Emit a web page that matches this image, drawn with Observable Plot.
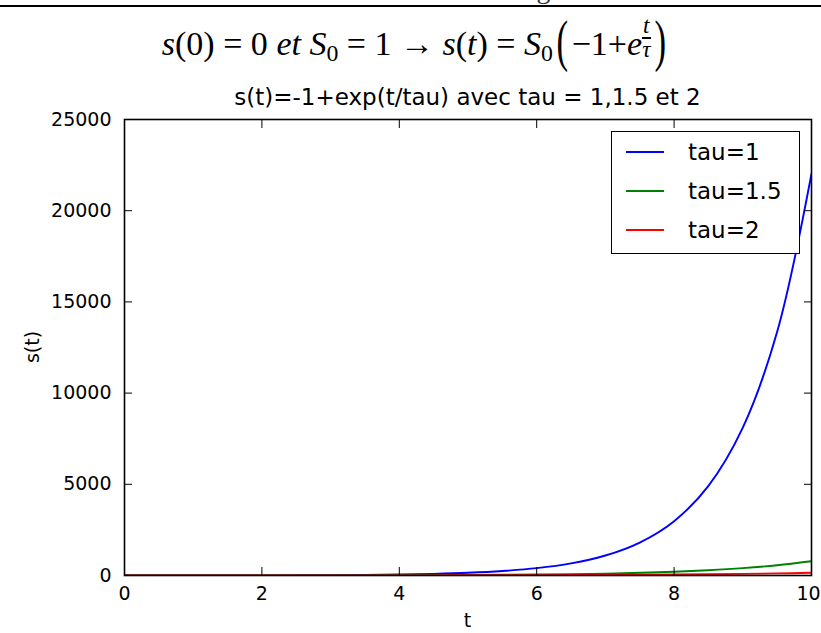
<!DOCTYPE html>
<html>
<head>
<meta charset="utf-8">
<script src="https://cdn.jsdelivr.net/npm/d3@7"></script>
<script src="https://cdn.jsdelivr.net/npm/@observablehq/plot@0.6"></script>
<style>
  html, body { margin: 0; padding: 0; background: #fff; }
  #page { position: relative; width: 821px; height: 633px; overflow: hidden; background: #fff; }
  .abs { position: absolute; white-space: nowrap; }
  #cut { left: 0; top: 0; width: 821px; height: 5px; overflow: hidden; }
  #cut span { position: absolute; left: 266px; top: -27px; font: 28px "Liberation Serif", serif; line-height: 32px; color: #333; }
  #rule { left: 0; top: 5px; width: 821px; height: 2px; background: #000; }
  #formula { left: 5px; width: 821px; top: 15px; text-align: center; font: 34px "Liberation Serif", "DejaVu Serif", serif; color: #000; line-height: 1.2; }
  #formula i { font-style: italic; }
  #formula sub { font-size: 0.7em; vertical-align: -0.25em; }
  .paren { display: inline-block; font-size: 1.65em; transform: scaleX(0.62); vertical-align: -0.1em; line-height: 0.8; }
  .frac { display: inline-block; vertical-align: -0.1em; font-size: 0.68em; text-align: center; line-height: 0.95; font-style: italic; }
  .frac .num { display: block; border-bottom: 2px solid #000; padding: 0 1px; }
  .frac .den { display: block; }
  #title { left: 124px; width: 687px; top: 84px; text-align: center; font: 23px "DejaVu Sans", sans-serif; color: #000; }
  #xlabel { left: 124px; width: 687px; top: 609px; text-align: center; font: 19px "DejaVu Sans", sans-serif; }
  #ylabel { left: 32px; top: 347px; font: 19px "DejaVu Sans", sans-serif; transform: translate(-50%, -50%) rotate(-90deg); }
  #legend { left: 611px; top: 131px; width: 187px; height: 121px; border: 1.5px solid #000; background: #fff; }
  .lrow { position: absolute; left: 0; height: 30px; }
  .lrow .sw { position: absolute; left: 14px; width: 38px; height: 2px; top: 14px; }
  .lrow .lt { position: absolute; left: 76px; top: 0px; font: 23px "DejaVu Sans", sans-serif; line-height: 30px; }
  #chart { position: absolute; left: 0; top: 80px; }
</style>
</head>
<body>
<div id="page">
  <div id="cut" class="abs"><span>Tracé de la courbe divergente</span></div>
  <div id="rule" class="abs"></div>
  <div id="formula" class="abs"><i>s</i>(0) = 0 <i>et</i> <i>S</i><sub>0</sub> = 1 → <i>s</i>(<i>t</i>) = <i>S</i><sub>0</sub><span class="paren">(</span>−1+<i>e</i><span class="frac"><span class="num">t</span><span class="den">τ</span></span><span class="paren">)</span></div>
  <div id="title" class="abs">s(t)=-1+exp(t/tau) avec tau = 1,1.5 et 2</div>
  <div id="chart"></div>
  <div id="xlabel" class="abs">t</div>
  <div id="ylabel" class="abs">s(t)</div>
  <div id="legend" class="abs"></div>
</div>
<script>
// ---- data ----
const tValues = [0, 0.5, 1, 1.5, 2, 2.5, 3, 3.5, 4, 4.5, 5, 5.5, 6, 6.5, 7, 7.5, 8, 8.5, 9, 9.5, 10];
const sTau1   = [0, 0.65, 1.7, 3.5, 6.4, 11, 19, 32, 54, 89, 147, 244, 402, 664, 1096, 1807, 2980, 4914, 8102, 13359, 22025];
const sTau15  = [0, 0.4, 0.95, 1.7, 2.8, 4.3, 6.4, 9.3, 13.4, 19.1, 27, 38, 54, 75, 105, 147, 206, 288, 402, 562, 785];
const sTau2   = [0, 0.28, 0.65, 1.1, 1.7, 2.5, 3.5, 4.8, 6.4, 8.5, 11.2, 14.6, 19.1, 24.8, 32.1, 41.5, 53.6, 69.1, 89, 114.6, 147.4];
const seriesNames  = ["tau=1", "tau=1.5", "tau=2"];
const seriesColors = ["#0000ff", "#008000", "#ff0000"];
const xTicks = [0, 2, 4, 6, 8, 10];
const yTicks = [0, 5000, 10000, 15000, 20000, 25000];

const seriesValues = [sTau1, sTau15, sTau2];
const rows = [];
seriesNames.forEach((name, i) => {
  tValues.forEach((t, j) => rows.push({t, s: seriesValues[i][j], series: name}));
});

const font = "DejaVu Sans, sans-serif";
const chart = Plot.plot({
  width: 821,
  height: 553,
  marginTop: 39,
  marginBottom: 58,
  marginLeft: 124,
  marginRight: 10,
  style: {fontFamily: font, fontSize: "19px", color: "#000", background: "transparent", overflow: "visible"},
  x: {domain: [0, 10]},
  y: {domain: [0, 25000]},
  color: {domain: seriesNames, range: seriesColors},
  marks: [
    Plot.line(rows, {x: "t", y: "s", z: "series", stroke: "series", strokeWidth: 1.9, curve: "catmull-rom", clip: true}),
    Plot.axisX({ticks: xTicks.slice(0, -1), tickSize: -8, tickPadding: 19, label: null, strokeWidth: 1, fontSize: 19}),
    Plot.axisX({ticks: xTicks.slice(-1), tickSize: 0, tickPadding: 11, dx: -3, label: null, fontSize: 19}),
    Plot.axisX({ticks: xTicks.slice(-1), tickSize: -8, tickFormat: () => "", label: null, strokeWidth: 1}),
    Plot.axisX({ticks: xTicks, anchor: "top", tickSize: -8, tickFormat: () => "", label: null, strokeWidth: 1}),
    Plot.axisY({ticks: yTicks, tickSize: -8, tickPadding: 21, label: null, tickFormat: d => String(d), strokeWidth: 1, fontSize: 19}),
    Plot.axisY({ticks: yTicks, anchor: "right", tickSize: -8, tickFormat: () => "", label: null, strokeWidth: 1}),
    Plot.frame({stroke: "#000", strokeWidth: 1.6})
  ]
});
document.getElementById("chart").appendChild(chart);

// legend
const legend = document.getElementById("legend");
seriesNames.forEach((name, i) => {
  const row = document.createElement("div");
  row.className = "lrow";
  row.style.top = (5 + i * 39) + "px";
  row.style.width = "187px";
  row.innerHTML = `<div class="sw" style="background:${seriesColors[i]}"></div><div class="lt">${name}</div>`;
  legend.appendChild(row);
});
</script>
</body>
</html>
